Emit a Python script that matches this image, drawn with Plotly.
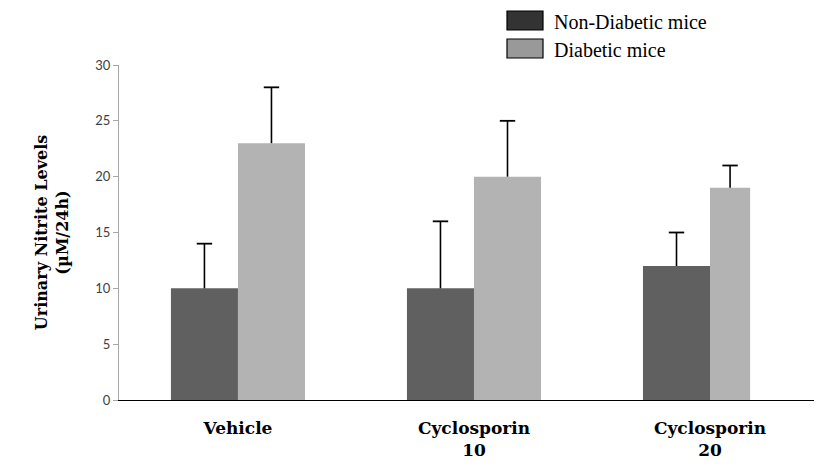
import plotly.graph_objects as go

categories = ["Vehicle", "Cyclosporin<br>10", "Cyclosporin<br>20"]
non_diabetic = [10, 10, 12]
non_diabetic_err = [4, 6, 3]
diabetic = [23, 20, 19]
diabetic_err = [5, 5, 2]
y_ticks = [0, 5, 10, 15, 20, 25, 30]

xpos = list(range(len(categories)))
bw = 0.284
dark_widths = [bw, bw, bw]
light_widths = [bw, bw, 0.17]

fig = go.Figure()
fig.add_trace(go.Bar(
    x=xpos, y=non_diabetic, width=dark_widths, offset=-bw,
    marker=dict(color="#606060", line=dict(width=0)),
    error_y=dict(type="data", array=non_diabetic_err, symmetric=False,
                 arrayminus=[0] * 3, color="black", thickness=1.6, width=0),
    name="Non-Diabetic mice", showlegend=False,
))
fig.add_trace(go.Bar(
    x=xpos, y=diabetic, width=light_widths, offset=0,
    marker=dict(color="#b3b3b3", line=dict(width=0)),
    error_y=dict(type="data", array=diabetic_err, symmetric=False,
                 arrayminus=[0] * 3, color="black", thickness=1.6, width=0),
    name="Diabetic mice", showlegend=False,
))

# caps on top of error bars
cap_x = [x - w / 2 for x, w in zip(xpos, dark_widths)] + [x + w / 2 for x, w in zip(xpos, light_widths)]
cap_y = [v + e for v, e in zip(non_diabetic, non_diabetic_err)] + [v + e for v, e in zip(diabetic, diabetic_err)]
fig.add_trace(go.Scatter(
    x=cap_x, y=cap_y, mode="markers", showlegend=False, hoverinfo="skip",
    marker=dict(symbol="line-ew", size=11, line=dict(color="black", width=1.8)),
))

fig.update_layout(
    width=814, height=459,
    margin=dict(l=111, r=2, t=57, b=67),
    paper_bgcolor="white", plot_bgcolor="white",
    barmode="overlay",
    xaxis=dict(
        range=[-0.504, 2.466], tickmode="array", tickvals=xpos, ticktext=categories,
        showline=True, linecolor="black", linewidth=1.3, ticks="", showgrid=False,
        zeroline=False, ticklabelstandoff=12,
        tickfont=dict(family="DejaVu Serif", size=17, color="black", weight="bold"),
    ),
    yaxis=dict(
        range=[0, 30], tickvals=y_ticks, showline=True, linecolor="#a6a6a6",
        linewidth=1, ticks="outside", ticklen=5, tickcolor="#a6a6a6",
        showgrid=False, zeroline=False,
        tickfont=dict(family="Lato", size=13, color="#404040"),
        title=dict(text="Urinary Nitrite Levels<br>(µM/24h)", standoff=22,
                   font=dict(family="DejaVu Serif", size=16, color="black", weight="bold")),
    ),
)

# custom legend (page pixel positions converted to paper fractions)
def px_x(p):
    return (p - 119) / 701

def px_y(p):
    return (400 - p) / 335

legend_items = [("Non-Diabetic mice", "#333333"), ("Diabetic mice", "#999999")]
for i, (label, col) in enumerate(legend_items):
    top = 11 + 28 * i
    fig.add_shape(type="rect", xref="paper", yref="paper",
                  x0=px_x(507), x1=px_x(543), y0=px_y(top), y1=px_y(top + 19),
                  fillcolor=col, line=dict(color="black", width=1.2))
    fig.add_annotation(xref="paper", yref="paper",
                       x=px_x(552), y=px_y(top + 11),
                       text=label, showarrow=False, xanchor="left", yanchor="middle",
                       font=dict(family="Liberation Serif", size=20, color="black"))

fig.write_html("out.html")
